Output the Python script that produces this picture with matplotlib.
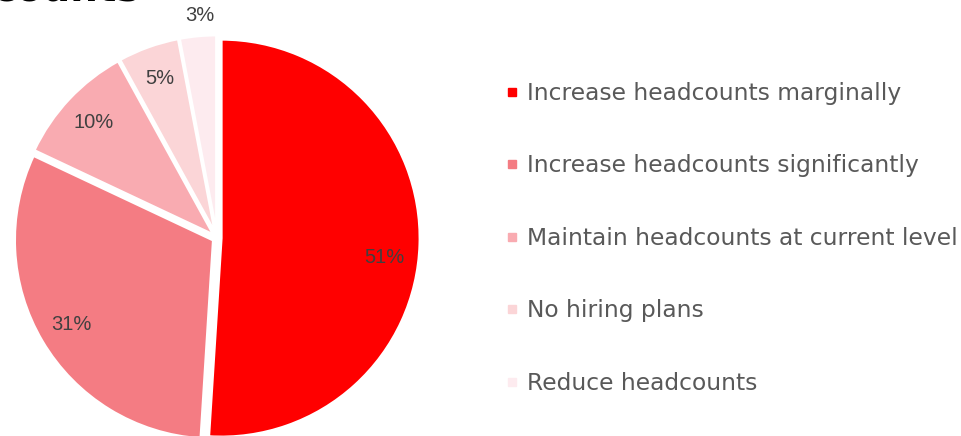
import matplotlib.pyplot as plt
from matplotlib.lines import Line2D
import numpy as np

# hiring intentions, share of respondents (%)
categories = [
    "Increase headcounts marginally",
    "Increase headcounts significantly",
    "Maintain headcounts at current level",
    "No hiring plans",
    "Reduce headcounts",
]
shares = [51, 31, 10, 5, 3]
colors = ["#FF0000", "#F47C83", "#F9ABB1", "#FBD5D7", "#FDEBEF"]

W, H = 961, 436
fig = plt.figure(figsize=(W / 100, H / 100), dpi=100)
ax = fig.add_axes([0, 0, 1, 1])

# pie centre / radius in pixel units (explode is in the same units)
cx, cy, r = 217, H - 238, 199

wedges, _, autotexts = ax.pie(
    shares,
    colors=colors,
    startangle=90,
    counterclock=False,
    explode=[4.1] * len(shares),
    center=(cx, cy),
    radius=r,
    autopct=lambda p: f"{p:.0f}%",
    pctdistance=0.83,
    wedgeprops=dict(edgecolor="white", linewidth=2.2),
    textprops=dict(color="#404040", fontsize=14.5, family="Liberation Sans"),
    frame=True,
)
ax.set_xlim(0, W)
ax.set_ylim(0, H)
ax.set_aspect("equal")
ax.axis("off")

# big slice label sits a little below its mid-line
x0, y0 = autotexts[0].get_position()
autotexts[0].set_position((x0 - 2, y0 - 14))

# smallest slice gets its label pushed outside the pie
w = wedges[-1]
mid = np.deg2rad((w.theta1 + w.theta2) / 2)
wx, wy = w.center
autotexts[-1].set_position((wx + 1.10 * r * np.cos(mid) + 4, wy + 1.10 * r * np.sin(mid)))

# title sits mostly above the canvas
ax.text(140, H - 1, "Headcounts", ha="right", va="baseline",
        fontsize=28, fontweight="bold", color="black")

handles = [Line2D([], [], marker="s", linestyle="none", markersize=6,
                  markerfacecolor=c, markeredgecolor=c) for c in colors]
leg = fig.legend(handles, categories, loc="upper left",
                 bbox_to_anchor=(506 / W, 1 - 82 / H),
                 frameon=False, fontsize=16.8, labelcolor="#595959",
                 handlelength=0.5, handletextpad=0.4, labelspacing=2.12,
                 borderaxespad=0, borderpad=0)
for t in leg.get_texts():
    t.set_family("DejaVu Sans")

fig.savefig("out.png", dpi=100)
